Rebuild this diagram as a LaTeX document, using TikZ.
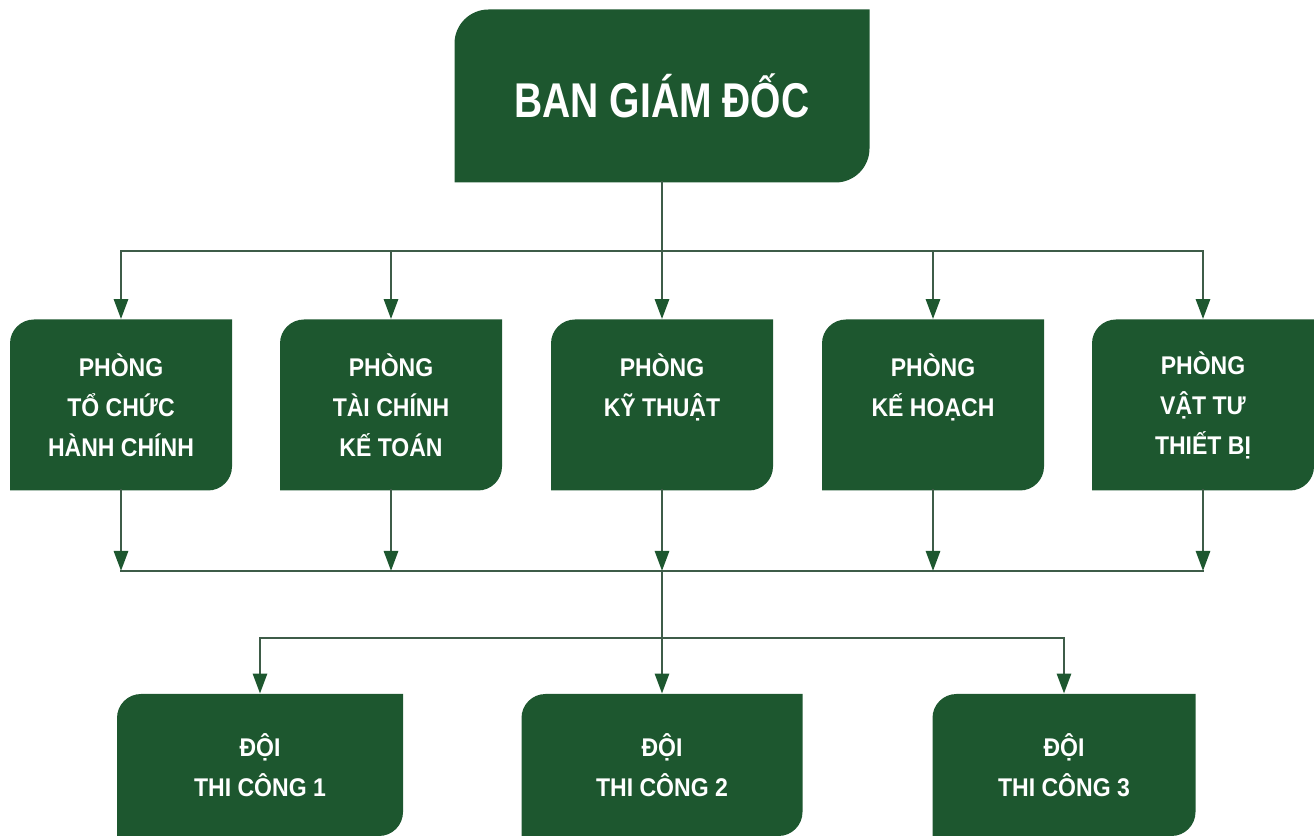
\documentclass[tikz,border=0pt]{standalone}
\usepackage{fontspec}
\setmainfont{Liberation Sans}[FakeStretch=0.9]
\newfontfamily\titlefont{Liberation Sans}[FakeStretch=0.8]
\usepackage{tikz}
\usetikzlibrary{arrows.meta}

\definecolor{boxgreen}{RGB}{29,87,47}
\definecolor{linegreen}{RGB}{62,92,72}
\tikzset{
	leaf/.style={
		path picture={
			\fill[boxgreen] (path picture bounding box.south west)
				-- ([yshift=-#1]path picture bounding box.north west)
				arc[start angle=180, end angle=90, radius=#1]
				-- (path picture bounding box.north east)
				-- ([yshift=#1]path picture bounding box.south east)
				arc[start angle=0, end angle=-90, radius=#1]
				-- cycle;
		}
	}
}

\begin{document}
\begin{tikzpicture}[x=0.5pt, y=-0.5pt]
	\useasboundingbox (0,0) rectangle (1314,839);
	\begin{scope}[every node/.style = {leaf=12pt, text=white, align=center, inner sep=0pt,
			font=\bfseries\fontsize{12.8}{20}\selectfont}]
		\node[leaf=17pt, minimum width=207.5pt, minimum height=86.5pt,
			font=\titlefont\bfseries\fontsize{24.4}{28}\selectfont] (BGD) at (662,96) {BAN GIÁM ĐỐC};
		% phong ban
		\begin{scope}[every node/.append style = {minimum width=111pt, minimum height=85.5pt}]
			\node (P1) at (121,405) {PHÒNG\\TỔ CHỨC\\HÀNH CHÍNH};
			\node (P2) at (391,405) {PHÒNG\\TÀI CHÍNH\\KẾ TOÁN};
			\node (P3) at (662,405) {PHÒNG\\KỸ THUẬT\\\mbox{}};
			\node (P4) at (933,405) {PHÒNG\\KẾ HOẠCH\\\mbox{}};
			\node (P5) at (1203,405) {PHÒNG\\VẬT TƯ\\THIẾT BỊ};
		\end{scope}
		% doi thi cong
		\begin{scope}[every node/.append style = {minimum height=71pt}]
			\node[minimum width=143pt] (D1) at (260,765) {ĐỘI\\THI CÔNG 1};
			\node[minimum width=140.5pt] (D2) at (662,765) {ĐỘI\\THI CÔNG 2};
			\node[minimum width=131.5pt] (D3) at (1064,765) {ĐỘI\\THI CÔNG 3};
		\end{scope}
	\end{scope}
	\foreach \i/\x in {1/121, 2/391, 3/662, 4/933, 5/1203} {
		\coordinate (T\i) at (\x,251);
		\coordinate (B\i) at (\x,571);
	}
	\coordinate (L1) at (260,638);
	\coordinate (L2) at (662,638);
	\coordinate (L3) at (1064,638);
	\begin{scope}[>={Triangle[length=10pt, width=7pt, boxgreen]},
			every edge/.style={draw=linegreen, line width=1.4pt, line cap=rect}]
		\path [-] (BGD) edge (T3);
		\path [-] (T1) edge (T5);
		\path [-] (B1) edge (B5);
		\path [-] (B3) edge (L2);
		\path [-] (L1) edge (L3);
		\foreach \i in {1,...,5} {
			\path [->] (T\i) edge (P\i);
			\path [->] (P\i) edge (B\i);
		}
		\foreach \i in {1,2,3} {
			\path [->] (L\i) edge (D\i);
		}
	\end{scope}
\end{tikzpicture}
\end{document}
